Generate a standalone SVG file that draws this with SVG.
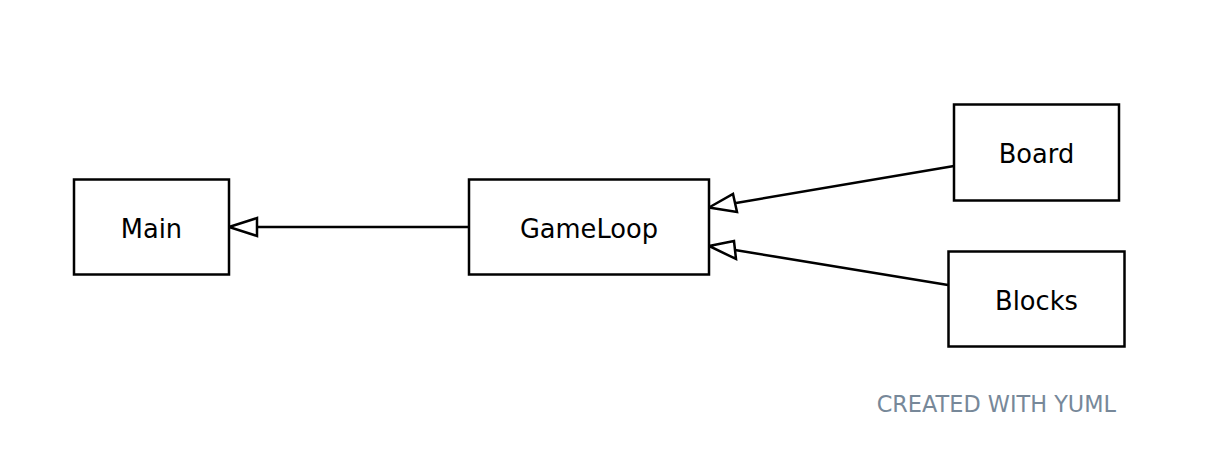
<svg xmlns="http://www.w3.org/2000/svg" width="1222" height="474" viewBox="0 0 1222 474">
  <style>
    .box { fill: #ffffff; stroke: #000000; stroke-width: 2.5; }
    .label { font-family: "DejaVu Sans", Verdana, sans-serif; font-size: 25.7px; fill: #000000; text-anchor: middle; }
    .edge { fill: none; stroke: #000000; stroke-width: 2.5; }
    .head { fill: #ffffff; stroke: #000000; stroke-width: 2.5; stroke-linejoin: miter; }
    .credit { font-family: "DejaVu Sans", Verdana, sans-serif; font-size: 22.4px; fill: #778899; text-anchor: end; }
  </style>
  <rect width="1222" height="474" fill="#ffffff"/>

  <!-- inheritance connectors -->
  <g id="connectors">
    <path class="edge" d="M469,227 L257,227"/>
    <polygon class="head" points="229,227 257,218 257,236"/>
    <path class="edge" d="M954,166 L736,203"/>
    <polygon class="head" points="709,207.5 733,194 737,212"/>
    <path class="edge" d="M948,285 L735,250"/>
    <polygon class="head" points="709,246 734,241 736,259"/>
  </g>

  <g id="Main">
    <rect class="box" x="74" y="179.5" width="155" height="95"/>
    <text class="label" x="151.5" y="238">Main</text>
  </g>
  <g id="GameLoop">
    <rect class="box" x="469" y="179.5" width="240" height="95"/>
    <text class="label" x="589" y="238">GameLoop</text>
  </g>
  <g id="Board">
    <rect class="box" x="954" y="104.5" width="165" height="96"/>
    <text class="label" x="1036.5" y="163">Board</text>
  </g>
  <g id="Blocks">
    <rect class="box" x="948.5" y="251.5" width="176" height="95"/>
    <text class="label" x="1036.5" y="310">Blocks</text>
  </g>

  <text class="credit" x="1116" y="412">CREATED WITH YUML</text>
</svg>
